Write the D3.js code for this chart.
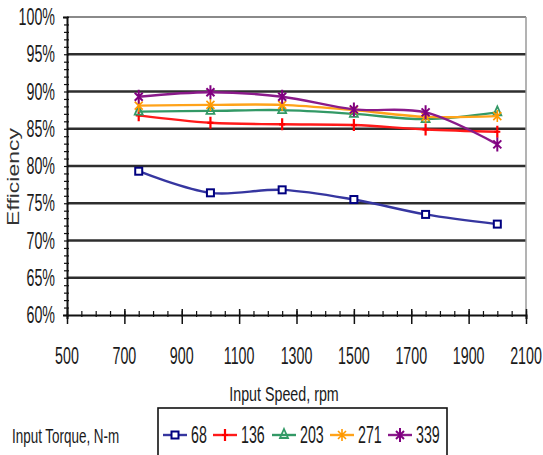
<!DOCTYPE html>
<html><head><meta charset="utf-8">
<script src="https://cdn.jsdelivr.net/npm/d3@7"></script>
<style>
html,body{margin:0;padding:0;background:#fff;}
svg{display:block;font-family:"Liberation Sans",Arial,sans-serif;}
</style></head>
<body><svg id="c" width="543" height="455"></svg>
<script>
const speeds = [750, 1000, 1250, 1500, 1750, 2000];
const torqueLabels = ["68", "136", "203", "271", "339"];
const eff68  = [79.3, 76.4, 76.8, 75.5, 73.5, 72.2];
const eff136 = [86.8, 85.8, 85.6, 85.5, 84.9, 84.6];
const eff203 = [87.3, 87.4, 87.5, 87.0, 86.3, 87.2];
const eff271 = [88.1, 88.2, 88.2, 87.5, 86.6, 86.7];
const eff339 = [89.3, 89.9, 89.3, 87.6, 87.2, 82.9];
const xTicks = [500, 700, 900, 1100, 1300, 1500, 1700, 1900, 2100];
const yTicks = [60, 65, 70, 75, 80, 85, 90, 95, 100];
const xTitle = "Input Speed, rpm";
const yTitle = "Efficiency";
const legendTitle = "Input Torque, N-m";

const series = [
  {name: torqueLabels[0], values: eff68,  color: "#000080", line: "#3636a0", marker: "square"},
  {name: torqueLabels[1], values: eff136, color: "#ff0000", line: "#ff1a1a", marker: "plus"},
  {name: torqueLabels[2], values: eff203, color: "#339966", line: "#339966", marker: "triangle"},
  {name: torqueLabels[3], values: eff271, color: "#ff9900", line: "#ffa31a", marker: "asterisk"},
  {name: torqueLabels[4], values: eff339, color: "#800080", line: "#8a1a8a", marker: "star"}
];

const svg = d3.select("#c");
const x = d3.scaleLinear().domain([500, 2100]).range([67, 526]);
const y = d3.scaleLinear().domain([60, 100]).range([315, 17]);

// gridlines
svg.append("g").selectAll("line").data(yTicks.filter(v => v > 60)).join("line")
  .attr("x1", x(500)).attr("x2", x(2100))
  .attr("y1", d => y(d)).attr("y2", d => y(d))
  .attr("stroke", d => d === 100 ? "#8a8a8a" : "#2e2e2e")
  .attr("stroke-width", d => d === 100 ? 2 : 2.6);
// right border
svg.append("line").attr("x1", x(2100)).attr("x2", x(2100)).attr("y1", y(100)).attr("y2", y(60))
  .attr("stroke", "#9a9a9a").attr("stroke-width", 1.5);

// y axis with minor ticks
const yMinor = d3.range(60, 100.01, 1);
const gy = svg.append("g").attr("transform", `translate(${x(500)},0)`)
  .call(d3.axisLeft(y).tickValues(yMinor).tickSize(4).tickFormat(""));
gy.select(".domain").attr("stroke", "#111").attr("stroke-width", 2);
gy.selectAll(".tick line").attr("stroke", "#111").attr("stroke-width", 1.2).attr("x2", -3).attr("x1", 2);

// x axis minor + major ticks
const xMinor = d3.range(500, 2100.01, 50);
const gx = svg.append("g").attr("transform", `translate(0,${y(60)})`)
  .call(d3.axisBottom(x).tickValues(xMinor).tickSize(4).tickFormat(""));
gx.select(".domain").attr("stroke", "#111").attr("stroke-width", 2);
gx.selectAll(".tick line").attr("stroke", "#111").attr("stroke-width", 1.2).attr("y1", -4).attr("y2", 2);
const gxM = svg.append("g").attr("transform", `translate(0,${y(60)})`)
  .call(d3.axisBottom(x).tickValues(xTicks).tickSize(10).tickFormat(""));
gxM.select(".domain").remove();
gxM.selectAll(".tick line").attr("stroke", "#111").attr("stroke-width", 1.5).attr("y1", -6).attr("y2", 9);

// y labels (condensed)
svg.append("g").selectAll("text").data(yTicks).join("text")
  .attr("transform", d => `translate(55,${y(d) + 8}) scale(0.62,1)`)
  .attr("text-anchor", "end").attr("font-size", 23).attr("fill", "#1a1a1a")
  .text(d => d + "%");
// x labels
svg.append("g").selectAll("text").data(xTicks).join("text")
  .attr("transform", d => `translate(${x(d)},${364}) scale(0.62,1)`)
  .attr("text-anchor", "middle").attr("font-size", 23).attr("fill", "#1a1a1a")
  .text(d => d);

// titles
svg.append("text").attr("transform", "translate(284,401) scale(0.68,1)")
  .attr("text-anchor", "middle").attr("font-size", 21).attr("fill", "#1a1a1a").text(xTitle);
svg.append("text").attr("transform", "translate(19,177) rotate(-90) scale(1.35,1)")
  .attr("text-anchor", "middle").attr("font-size", 17).attr("fill", "#333").text(yTitle);

// markers
function drawMarker(g, type, color) {
  if (type === "square") {
    g.append("rect").attr("x", -3.5).attr("y", -3.5).attr("width", 7).attr("height", 7)
      .attr("fill", "#fff").attr("stroke", color).attr("stroke-width", 2);
  } else if (type === "plus") {
    g.append("path").attr("d", "M0,-6V6M-3,0H3").attr("stroke", color).attr("stroke-width", 2.2).attr("fill", "none");
  } else if (type === "triangle") {
    g.append("path").attr("d", "M0,-6L4,3H-4Z").attr("stroke", color).attr("stroke-width", 1.8).attr("fill", "none");
  } else if (type === "asterisk") {
    g.append("path").attr("d", "M0,-6V6M-4,-4L4,4M-4,4L4,-4").attr("stroke", color).attr("stroke-width", 1.6).attr("fill", "none");
  } else {
    g.append("path").attr("d", "M0,-7V7M-4,-4L4,4M-4,4L4,-4").attr("stroke", color).attr("stroke-width", 2).attr("fill", "none");
  }
}

const line = d3.line().x(d => x(d[0])).y(d => y(d[1])).curve(d3.curveCatmullRom.alpha(0.5));
series.forEach(s => {
  const pts = speeds.map((v, i) => [v, s.values[i]]);
  svg.append("path").datum(pts).attr("d", line).attr("fill", "none")
    .attr("stroke", s.line).attr("stroke-width", 2.4);
  pts.forEach(p => {
    const g = svg.append("g").attr("transform", `translate(${x(p[0])},${y(p[1])})`);
    drawMarker(g, s.marker, s.color);
  });
});

// legend
svg.append("text").attr("transform", "translate(12,443) scale(0.64,1)")
  .attr("font-size", 21).attr("fill", "#1a1a1a").text(legendTitle);
svg.append("rect").attr("x", 158).attr("y", 408).attr("width", 289).attr("height", 52)
  .attr("fill", "#fff").attr("stroke", "#111").attr("stroke-width", 1.6);
const legX = [163, 213, 272, 330, 388];
series.forEach((s, i) => {
  const g = svg.append("g").attr("transform", `translate(${legX[i]},435)`);
  g.append("line").attr("x1", 0).attr("x2", 24).attr("y1", 0).attr("y2", 0)
    .attr("stroke", s.line).attr("stroke-width", 2.4);
  const m = g.append("g").attr("transform", "translate(12,0)");
  drawMarker(m, s.marker, s.color);
  g.append("text").attr("transform", "translate(28,8) scale(0.62,1)")
    .attr("font-size", 23).attr("fill", "#1a1a1a").text(s.name);
});
</script></body></html>
